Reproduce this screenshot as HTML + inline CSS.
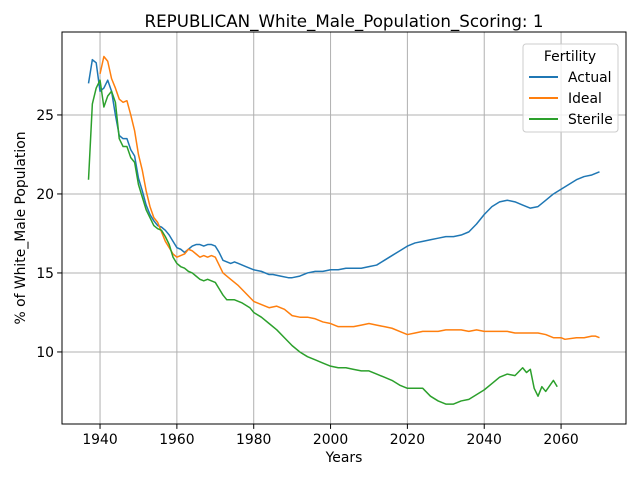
<!DOCTYPE html>
<html><head><meta charset="utf-8"><style>
body{margin:0;background:#fff;font-family:"Liberation Sans","DejaVu Sans",sans-serif}
svg text{font-family:"DejaVu Sans","Liberation Sans",sans-serif}
</style></head><body>
<svg id="chart" width="640" height="480" xmlns="http://www.w3.org/2000/svg">
<rect width="640" height="480" fill="#fff"/>
<g id="grid"></g>
<g id="series"></g>
<rect x="62" y="32" width="564" height="392" fill="none" stroke="#000" stroke-width="1"/>
<g id="ticks"></g>
<text x="344" y="27" text-anchor="middle" font-size="16.7">REPUBLICAN_White_Male_Population_Scoring: 1</text>
<text x="344" y="462" text-anchor="middle" font-size="13.9">Years</text>
<text transform="translate(25,228) rotate(-90)" text-anchor="middle" font-size="13.9">% of White_Male Population</text>
<g>
<rect x="523" y="44" width="95" height="88" rx="3" fill="#fff" fill-opacity="0.8" stroke="#ccc"/>
<text x="570" y="61" text-anchor="middle" font-size="13.9">Fertility</text>
<g><line x1="529" x2="558" y1="77" y2="77" stroke="#1f77b4" stroke-width="2"/><text x="568" y="82" font-size="13.9">Actual</text></g>
<g><line x1="529" x2="558" y1="98" y2="98" stroke="#ff7f0e" stroke-width="2"/><text x="568" y="103" font-size="13.9">Ideal</text></g>
<g><line x1="529" x2="558" y1="119" y2="119" stroke="#2ca02c" stroke-width="2"/><text x="568" y="124" font-size="13.9">Sterile</text></g>
</g>
</svg>
<script>
const xTicks=[1940,1960,1980,2000,2020,2040,2060];
const yTicks=[10,15,20,25];
const actualYears=[1937,1938,1939,1940,1941,1942,1943,1944,1945,1946,1947,1948,1949,1950,1951,1952,1953,1954,1955,1956,1957,1958,1959,1960,1961,1962,1963,1964,1965,1966,1967,1968,1969,1970,1971,1972,1974,1975,1976,1978,1980,1982,1984,1985,1987,1989,1990,1992,1994,1996,1998,2000,2002,2004,2006,2008,2010,2012,2014,2016,2018,2020,2022,2024,2026,2028,2030,2032,2034,2036,2038,2040,2042,2044,2046,2048,2050,2052,2054,2056,2058,2060,2062,2064,2066,2068,2070];
const actualValues=[27.0,28.5,28.3,26.5,26.7,27.2,26.5,25.0,23.7,23.5,23.5,22.8,22.4,21.0,20.2,19.3,18.7,18.3,18.0,17.9,17.7,17.4,17.0,16.6,16.5,16.3,16.5,16.7,16.8,16.8,16.7,16.8,16.8,16.7,16.3,15.8,15.6,15.7,15.6,15.4,15.2,15.1,14.9,14.9,14.8,14.7,14.7,14.8,15.0,15.1,15.1,15.2,15.2,15.3,15.3,15.3,15.4,15.5,15.8,16.1,16.4,16.7,16.9,17.0,17.1,17.2,17.3,17.3,17.4,17.6,18.1,18.7,19.2,19.5,19.6,19.5,19.3,19.1,19.2,19.6,20.0,20.3,20.6,20.9,21.1,21.2,21.4];
const idealYears=[1940,1941,1942,1943,1944,1945,1946,1947,1948,1949,1950,1951,1952,1953,1954,1955,1956,1957,1958,1959,1960,1961,1962,1963,1964,1965,1966,1967,1968,1969,1970,1971,1972,1974,1976,1978,1980,1982,1984,1986,1988,1990,1992,1994,1996,1998,2000,2002,2004,2006,2008,2010,2012,2014,2016,2018,2020,2022,2024,2026,2028,2030,2032,2034,2036,2038,2040,2042,2044,2046,2048,2050,2052,2054,2056,2058,2060,2061,2064,2066,2068,2069,2070];
const idealValues=[27.6,28.7,28.4,27.3,26.7,26.0,25.8,25.9,25.0,24.0,22.5,21.5,20.2,19.2,18.5,18.2,17.6,17.0,16.6,16.2,16.0,16.1,16.2,16.5,16.4,16.2,16.0,16.1,16.0,16.1,16.0,15.5,15.0,14.6,14.2,13.7,13.2,13.0,12.8,12.9,12.7,12.3,12.2,12.2,12.1,11.9,11.8,11.6,11.6,11.6,11.7,11.8,11.7,11.6,11.5,11.3,11.1,11.2,11.3,11.3,11.3,11.4,11.4,11.4,11.3,11.4,11.3,11.3,11.3,11.3,11.2,11.2,11.2,11.2,11.1,10.9,10.9,10.8,10.9,10.9,11.0,11.0,10.9];
const sterileYears=[1937,1938,1939,1940,1941,1942,1943,1944,1945,1946,1947,1948,1949,1950,1951,1952,1953,1954,1955,1956,1957,1958,1959,1960,1961,1962,1963,1964,1965,1966,1967,1968,1970,1971,1972,1973,1975,1977,1979,1980,1982,1984,1986,1988,1990,1992,1994,1996,1998,2000,2002,2004,2006,2008,2010,2012,2014,2016,2018,2020,2022,2024,2026,2028,2030,2032,2034,2036,2038,2040,2042,2044,2046,2048,2050,2051,2052,2053,2054,2055,2056,2058,2059];
const sterileValues=[20.9,25.7,26.7,27.2,25.5,26.2,26.5,25.8,23.5,23.0,23.0,22.3,22.0,20.6,19.8,19.0,18.5,18.0,17.8,17.7,17.3,16.8,16.0,15.6,15.4,15.3,15.1,15.0,14.8,14.6,14.5,14.6,14.4,14.0,13.6,13.3,13.3,13.1,12.8,12.5,12.2,11.8,11.4,10.9,10.4,10.0,9.7,9.5,9.3,9.1,9.0,9.0,8.9,8.8,8.8,8.6,8.4,8.2,7.9,7.7,7.7,7.7,7.2,6.9,6.7,6.7,6.9,7.0,7.3,7.6,8.0,8.4,8.6,8.5,9.0,8.7,8.9,7.7,7.2,7.8,7.5,8.2,7.8];

const L=62,R=626,T=32,B=424;
const xMin=1930.1,xMax=2076.9,yMin=5.44,yMax=30.25;
const sx=v=>L+(v-xMin)/(xMax-xMin)*(R-L);
const sy=v=>B-(v-yMin)/(yMax-yMin)*(B-T);
const NS="http://www.w3.org/2000/svg";
function mk(tag,attrs,parent){const e=document.createElementNS(NS,tag);for(const k in attrs)e.setAttribute(k,attrs[k]);parent.appendChild(e);return e;}
const grid=document.getElementById('grid'),ticks=document.getElementById('ticks'),ser=document.getElementById('series');
xTicks.forEach(t=>{const x=sx(t);
 const g=mk('line',{x1:x,x2:x,y1:T,y2:B,stroke:'#b0b0b0','stroke-width':1},grid);
 
 
 const tk=mk('line',{x1:x,x2:x,y1:B,y2:B+4.9,stroke:'#000'},ticks);
 
 
 const tx=mk('text',{x:x,y:B+20,'text-anchor':'middle','font-size':13.9},ticks);tx.textContent=t;
 
 
});
yTicks.forEach(t=>{const y=sy(t);
 const g=mk('line',{x1:L,x2:R,y1:y,y2:y,stroke:'#b0b0b0','stroke-width':1},grid);
 
 
 const tk=mk('line',{x1:L-4.9,x2:L,y1:y,y2:y,stroke:'#000'},ticks);
 
 
 const tx=mk('text',{x:L-8,y:y+5,'text-anchor':'end','font-size':13.9},ticks);tx.textContent=t;
 
 
});
function line(xs,ys,color,name){
 const p=mk('polyline',{points:xs.map((x,i)=>sx(x)+','+sy(ys[i])).join(' '),fill:'none',stroke:color,'stroke-width':1.5,'stroke-linejoin':'round'},ser);
 
 
}
line(actualYears,actualValues,'#1f77b4','actual-line');
line(idealYears,idealValues,'#ff7f0e','ideal-line');
line(sterileYears,sterileValues,'#2ca02c','sterile-line');
</script>
</body></html>
